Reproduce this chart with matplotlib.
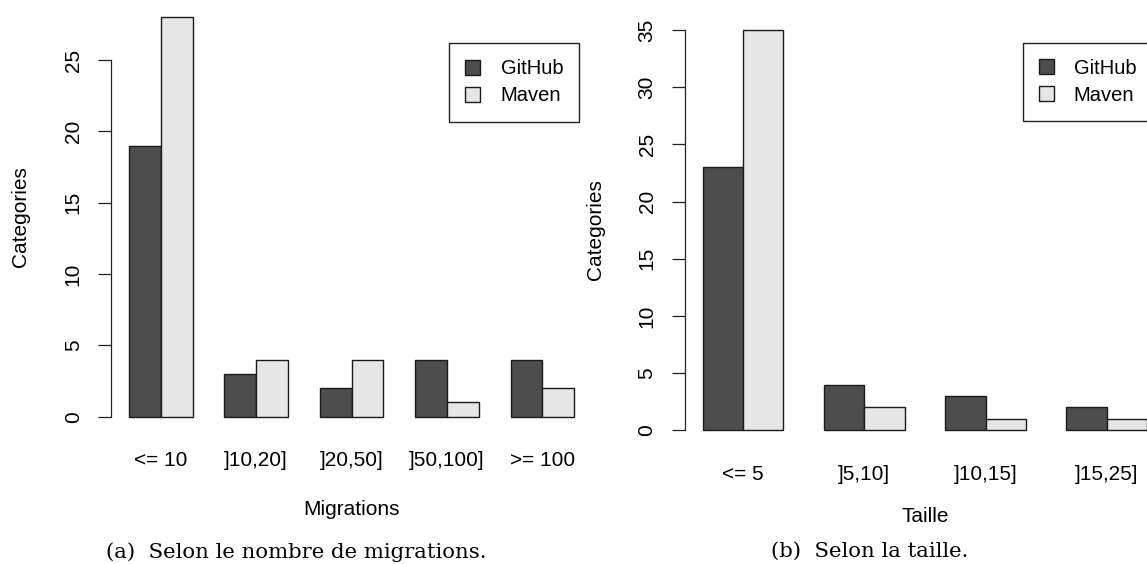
import matplotlib
matplotlib.use("Agg")
import matplotlib.pyplot as plt

W, H, DPI = 1147, 564, 100

series_names = ["GitHub", "Maven"]
series_colors = ["#4d4d4d", "#e6e6e6"]

mig_categories = ["<= 10", "]10,20]", "]20,50]", "]50,100]", ">= 100"]
mig_github = [19, 3, 2, 4, 4]
mig_maven = [28, 4, 4, 1, 2]
mig_yticks = [0, 5, 10, 15, 20, 25]

taille_categories = ["<= 5", "]5,10]", "]10,15]", "]15,25]"]
taille_github = [23, 4, 3, 2]
taille_maven = [35, 2, 1, 1]
taille_yticks = [0, 5, 10, 15, 20, 25, 30, 35]

plt.rcParams["font.family"] = ["Liberation Sans", "DejaVu Sans"]
FS = 15
LFS = 14.5

fig = plt.figure(figsize=(W / DPI, H / DPI), dpi=DPI)


def px_rect(left, top, right, bottom):
    return [left / W, 1 - bottom / H, (right - left) / W, (bottom - top) / H]


def fx(x):
    return x / W


def fy(y):
    return 1 - y / H


def panel(rect, cats, gh, mv, yticks, xlabel, xlabel_px, ylabel_px, leg_anchor):
    ax = fig.add_axes(rect)
    n = len(cats)
    left_gh = [1 + 3 * i for i in range(n)]
    left_mv = [2 + 3 * i for i in range(n)]
    ax.bar(left_gh, gh, width=1, align="edge", color=series_colors[0],
           edgecolor="#1a1a1a", linewidth=1.0, label=series_names[0])
    ax.bar(left_mv, mv, width=1, align="edge", color=series_colors[1],
           edgecolor="#1a1a1a", linewidth=1.0, label=series_names[1])
    span = 3 * n - 1
    ax.set_xlim(1 - 0.04 * span, 3 * n + 0.04 * span)
    ymax = max(max(gh), max(mv))
    ax.set_ylim(-0.04 * ymax, 1.04 * ymax)
    for s in ["top", "right", "bottom"]:
        ax.spines[s].set_visible(False)
    ax.spines["left"].set_bounds(yticks[0], yticks[-1])
    ax.spines["left"].set_linewidth(0.9)
    ax.spines["left"].set_color("#222222")
    ax.set_yticks(yticks)
    ax.set_yticklabels([str(t) for t in yticks])
    ax.tick_params(axis="y", length=9.4, width=0.9, color="#222222",
                   labelsize=FS, pad=11.0, labelrotation=90)
    for lab in ax.get_yticklabels():
        lab.set_va("center")
    centers = [2 + 3 * i for i in range(n)]
    ax.set_xticks(centers)
    ax.set_xticklabels(cats)
    ax.tick_params(axis="x", length=0, labelsize=FS, pad=13.5)
    fig.text(fx(xlabel_px[0]), fy(xlabel_px[1]), xlabel, ha="center",
             va="baseline", fontsize=FS)
    fig.text(fx(ylabel_px[0]), fy(ylabel_px[1]), "Categories", ha="center",
             va="center", rotation=90, fontsize=FS)
    ax.legend(loc="upper right", bbox_to_anchor=leg_anchor,
              bbox_transform=fig.transFigure, fontsize=LFS, frameon=True,
              fancybox=False, edgecolor="#222222", framealpha=1,
              borderpad=0.8, handlelength=0.75, handleheight=0.75,
              handletextpad=1.0, labelspacing=0.4, borderaxespad=0)
    leg = ax.get_legend()
    leg.get_frame().set_linewidth(1.0)
    return ax


axA = panel(px_rect(111.2, 1.2, 592, 432.7), mig_categories, mig_github,
            mig_maven, mig_yticks, "Migrations", (351.6, 515), (21, 217),
            (fx(579.3), fy(43.3)))
axB = panel(px_rect(684.9, 13.9, 1164.9, 446.3), taille_categories,
            taille_github, taille_maven, taille_yticks, "Taille",
            (924.9, 522), (596, 230), (fx(1152.6), fy(42.7)))

cap_font = ["DejaVu Serif"]
fig.text(fx(296.6), fy(551.7), "(a)  Selon le nombre de migrations.",
         ha="center", va="center", fontsize=15.3, family=cap_font)
fig.text(fx(870), fy(551.7), "(b)  Selon la taille.",
         ha="center", va="center", fontsize=15.3, family=cap_font)

fig.savefig("out.png", dpi=DPI)
